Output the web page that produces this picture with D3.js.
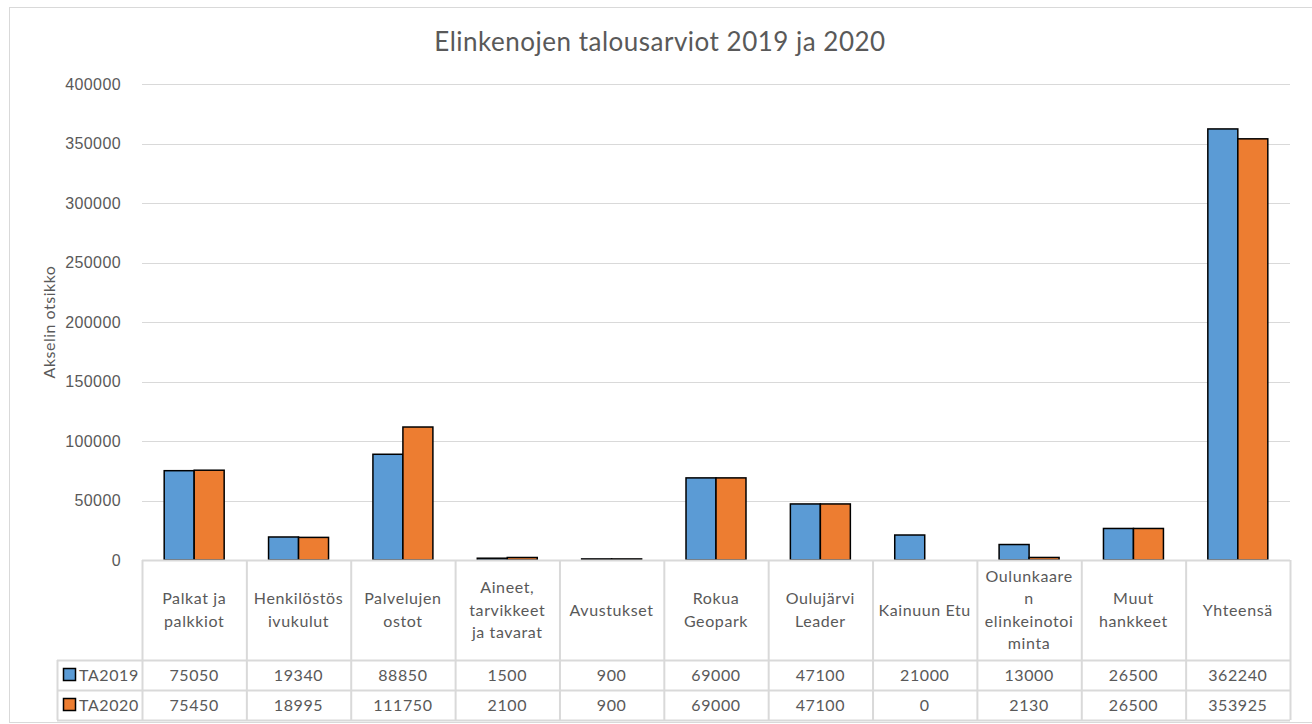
<!DOCTYPE html>
<html>
<head>
<meta charset="utf-8">
<script src="https://cdn.jsdelivr.net/npm/d3@7"></script>
<style>
  body { margin: 0; background: #fff; }
  svg { display: block; font-family: Lato, "Liberation Sans", sans-serif; }
  .tick text { fill: #595959; font-size: 16px; letter-spacing: 0.4px; }
  .grid line { stroke: #d9d9d9; }
  .cell { fill: #595959; font-size: 16px; letter-spacing: 0.6px; }
</style>
</head>
<body>
<script>
// chart data
var categories = ["Palkat ja palkkiot", "Henkilöstösivukulut", "Palvelujen ostot", "Aineet, tarvikkeet ja tavarat",
  "Avustukset", "Rokua Geopark", "Oulujärvi Leader", "Kainuun Etu", "Oulunkaaren elinkeinotoiminta",
  "Muut hankkeet", "Yhteensä"];
// header labels as they wrap in the table
var headerLines = [["Palkat ja", "palkkiot"], ["Henkilöstös", "ivukulut"], ["Palvelujen", "ostot"],
  ["Aineet,", "tarvikkeet", "ja tavarat"], ["Avustukset"], ["Rokua", "Geopark"], ["Oulujärvi", "Leader"],
  ["Kainuun Etu"], ["Oulunkaare", "n", "elinkeinotoi", "minta"], ["Muut", "hankkeet"], ["Yhteensä"]];
var seriesNames = ["TA2019", "TA2020"];
var ta2019 = [75050, 19340, 88850, 1500, 900, 69000, 47100, 21000, 13000, 26500, 362240];
var ta2020 = [75450, 18995, 111750, 2100, 900, 69000, 47100, 0, 2130, 26500, 353925];
var yTicks = [0, 50000, 100000, 150000, 200000, 250000, 300000, 350000, 400000];
var colors = ["#5b9bd5", "#ed7d31"];

var W = 1312, H = 724;
var margin = {left: 142, right: 22, top: 84};
var plotBottom = 560;
var headerH = 100, rowH = 30;

var svg = d3.select("body").append("svg").attr("width", W).attr("height", H);

// outer chart border
svg.append("rect").attr("x", 9.5).attr("y", 7.5).attr("width", W - 9).attr("height", H - 9)
  .attr("fill", "#fff").attr("stroke", "#d9d9d9");

svg.append("text").attr("x", 660).attr("y", 51).attr("text-anchor", "middle")
  .attr("fill", "#595959").style("font-size", "26px").style("letter-spacing", "0.5px")
  .text("Elinkenojen talousarviot 2019 ja 2020");

var x = d3.scaleBand().domain(categories).range([margin.left, W - margin.right]).padding(0);
var x1 = d3.scaleBand().domain(seriesNames).range([0, x.bandwidth()]).paddingInner(0).paddingOuter(0.74);
var y = d3.scaleLinear().domain([0, 400000]).range([plotBottom, margin.top]);

// gridlines
svg.append("g").attr("class", "grid")
  .selectAll("line").data(yTicks).join("line")
  .attr("x1", margin.left).attr("x2", W - margin.right)
  .attr("y1", d => Math.round(y(d)) + 0.5).attr("y2", d => Math.round(y(d)) + 0.5);

var yAxis = svg.append("g").attr("transform", `translate(${margin.left - 18},0)`)
  .call(d3.axisLeft(y).tickValues(yTicks).tickSize(0).tickFormat(d3.format("d")));
yAxis.select(".domain").remove();

svg.append("text").attr("transform", "translate(55,322) rotate(-90)")
  .attr("text-anchor", "middle").attr("fill", "#595959").style("font-size", "16px").style("letter-spacing", "0.5px")
  .text("Akselin otsikko");

// bars
var series = [ta2019, ta2020];
var groups = svg.append("g").selectAll("g").data(series).join("g").attr("fill", (d, i) => colors[i]);
groups.selectAll("rect").data((d, i) => d.map((v, j) => ({v: v, c: categories[j], s: seriesNames[i]})))
  .join("rect")
  .attr("x", d => x(d.c) + x1(d.s))
  .attr("width", x1.bandwidth())
  .attr("y", d => y(d.v))
  .attr("height", d => plotBottom - y(d.v))
  .attr("stroke", "#000").attr("stroke-width", 1.5);

// data table
var tbl = svg.append("g");
var tableLeft = 57, tableRight = W - margin.right;
var rowsY = [plotBottom + headerH, plotBottom + headerH + rowH, plotBottom + headerH + 2 * rowH];
var lineCol = "#d9d9d9";
// horizontal lines
tbl.append("line").attr("x1", margin.left).attr("x2", tableRight).attr("y1", plotBottom + 0.5).attr("y2", plotBottom + 0.5).attr("stroke", lineCol).attr("stroke-width", 2);
rowsY.forEach(function(ry) {
  tbl.append("line").attr("x1", tableLeft).attr("x2", tableRight).attr("y1", ry + 0.5).attr("y2", ry + 0.5).attr("stroke", lineCol).attr("stroke-width", 2);
});
// vertical lines
var bounds = categories.map(c => x(c)).concat([x.range()[1]]);
bounds.forEach(function(bx) {
  tbl.append("line").attr("x1", bx + 0.5).attr("x2", bx + 0.5).attr("y1", plotBottom).attr("y2", rowsY[2]).attr("stroke", lineCol).attr("stroke-width", 2);
});
tbl.append("line").attr("x1", tableLeft + 0.5).attr("x2", tableLeft + 0.5).attr("y1", rowsY[0]).attr("y2", rowsY[2]).attr("stroke", lineCol).attr("stroke-width", 2);

// header text
headerLines.forEach(function(lines, i) {
  var cx = x(categories[i]) + x.bandwidth() / 2;
  var lh = 22.5;
  var y0 = plotBottom + headerH / 2 - (lines.length - 1) * lh / 2;
  lines.forEach(function(t, k) {
    tbl.append("text").attr("class", "cell").attr("x", cx).attr("y", y0 + k * lh)
      .attr("dy", "0.35em").attr("text-anchor", "middle").text(t);
  });
});

// value rows + legend keys
series.forEach(function(vals, si) {
  var cy = rowsY[si] + rowH / 2;
  tbl.append("rect").attr("x", 63.5).attr("y", cy - 6.5).attr("width", 12).attr("height", 12)
    .attr("fill", colors[si]).attr("stroke", "#000").attr("stroke-width", 1.5);
  tbl.append("text").attr("class", "cell").attr("x", 79).attr("y", cy).attr("dy", "0.35em").text(seriesNames[si]);
  vals.forEach(function(v, j) {
    tbl.append("text").attr("class", "cell").attr("x", x(categories[j]) + x.bandwidth() / 2)
      .attr("y", cy).attr("dy", "0.35em").attr("text-anchor", "middle").text(v);
  });
});
</script>
</body>
</html>
